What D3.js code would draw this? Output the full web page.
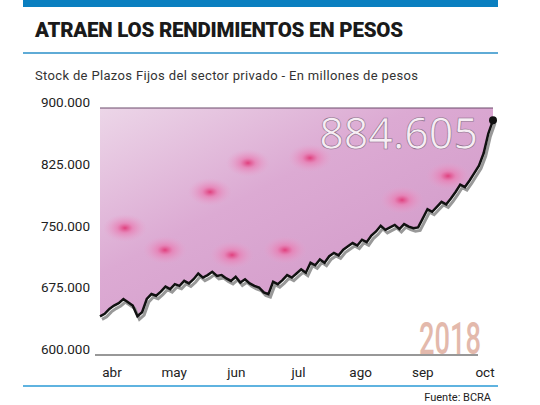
<!DOCTYPE html><html><head><meta charset="utf-8">
<script src="https://cdn.jsdelivr.net/npm/d3@7"></script>
<style>body{margin:0;background:#fff}</style></head><body>
<svg id="c" width="540" height="405"></svg>
<script>
const months=["abr","may","jun","jul","ago","sep","oct"];
const yTicks=[600000,675000,750000,825000,900000];
const values=[647,650,656,660,663,668,664,660,647,652,668,674,672,677,683,680,686,684,690,687,692,699,694,697,701,696,697,693,690,695,688,692,687,684,682,676,674,689,686,691,697,694,699,704,700,712,709,716,712,720,724,721,728,732,736,733,740,737,745,750,757,752,755,758,753,759,756,754,755,766,777,774,780,786,783,790,798,807,804,812,821,830,845,869,885];
const lastLabel="884.605";
const svg=d3.select("#c");
const x=d3.scaleLinear().domain([0,values.length-1]).range([100,493]);
const y=d3.scaleLinear().domain([600000,900000]).range([355,108]);
const xm=d3.scalePoint().domain(months).range([112,485]);
svg.append("rect").attr("x",23).attr("y",0).attr("width",475).attr("height",7).attr("fill","#0a7fc0");
svg.append("text").attr("x",35).attr("y",37).text("ATRAEN LOS RENDIMIENTOS EN PESOS").attr("font-family","Roboto").attr("font-weight",900).attr("font-size",20.5).attr("fill","#1a1a1a").attr("textLength",368);
svg.append("line").attr("x1",23).attr("x2",498).attr("y1",53).attr("y2",53).attr("stroke","#2a8fc8").attr("stroke-width",1.5);
svg.append("text").attr("x",35).attr("y",80).text("Stock de Plazos Fijos del sector privado -  En millones de pesos").attr("font-family","Roboto").attr("font-size",13).attr("fill","#333").attr("textLength",383);
const defs=svg.append("defs");
const g=defs.append("linearGradient").attr("id","gr").attr("x1",0).attr("y1",0).attr("x2",1).attr("y2",1);
g.append("stop").attr("offset","0%").attr("stop-color","#ecd6e8");
g.append("stop").attr("offset","40%").attr("stop-color","#dcaad3");
g.append("stop").attr("offset","100%").attr("stop-color","#cf95c6");
const rg=defs.append("radialGradient").attr("id","fl");
rg.append("stop").attr("offset","0%").attr("stop-color","#e0407e");
rg.append("stop").attr("offset","35%").attr("stop-color","#e87fb4").attr("stop-opacity",0.8);
rg.append("stop").attr("offset","100%").attr("stop-color","#e8a0cc").attr("stop-opacity",0);
const area=d3.area().x((d,i)=>x(i)).y0(y(900000)).y1(d=>y(d*1000));
defs.append("clipPath").attr("id","cp").append("path").datum(values).attr("d",area);
svg.append("path").datum(values).attr("d",area).attr("fill","url(#gr)");
const fl=[[125,228],[248,163],[210,192],[310,158],[402,200],[448,176],[165,250],[232,255],[285,250]];
svg.append("g").attr("clip-path","url(#cp)").selectAll("ellipse").data(fl).join("ellipse").attr("cx",d=>d[0]).attr("cy",d=>d[1]).attr("rx",22).attr("ry",14).attr("fill","url(#fl)");
svg.append("line").attr("x1",100).attr("x2",493).attr("y1",108).attr("y2",108).attr("stroke","#6a4a6a");
const line=d3.line().x((d,i)=>x(i)).y(d=>y(d*1000));
svg.append("path").datum(values).attr("d",line).attr("fill","none").attr("stroke","#999").attr("stroke-width",3).attr("transform","translate(2,3)");
svg.append("path").datum(values).attr("d",line).attr("fill","none").attr("stroke","#111").attr("stroke-width",2.5);
svg.append("circle").attr("cx",x(values.length-1)).attr("cy",y(values[values.length-1]*1000)).attr("r",4).attr("fill","#111");
svg.append("text").attr("x",478).attr("y",149).attr("text-anchor","end").text(lastLabel).attr("font-family","Open Sans").attr("font-size",43).attr("fill","#f6eef4").attr("stroke","#8a6a86").attr("stroke-width",0.6);
svg.append("line").attr("x1",95).attr("x2",478).attr("y1",355).attr("y2",355).attr("stroke","#333").attr("stroke-width",1.2);
svg.selectAll(".yl").data(yTicks).join("text").attr("x",90).attr("y",d=>y(d)-1).attr("text-anchor","end")
 .text(d=>d3.format(",")(d).replace(/,/g,".")).attr("font-family","Roboto").attr("font-size",13.5).attr("fill","#222");
svg.selectAll(".xl").data(months).join("text").attr("x",d=>xm(d)).attr("y",377).attr("text-anchor","middle").text(d=>d).attr("font-family","Roboto").attr("font-size",13.5).attr("fill","#222");
svg.append("text").attr("transform","translate(481,354) scale(0.62,1)").attr("text-anchor","end").text("2018").attr("font-family","Roboto").attr("font-weight",500).attr("font-size",44).attr("fill","#e3b9ac");
svg.append("line").attr("x1",23).attr("x2",498).attr("y1",386).attr("y2",386).attr("stroke","#2a9ad6").attr("stroke-width",1.5);
svg.append("text").attr("x",491).attr("y",401).attr("text-anchor","end").text("Fuente: BCRA").attr("font-family","Roboto").attr("font-size",11).attr("fill","#222");
</script></body></html>
